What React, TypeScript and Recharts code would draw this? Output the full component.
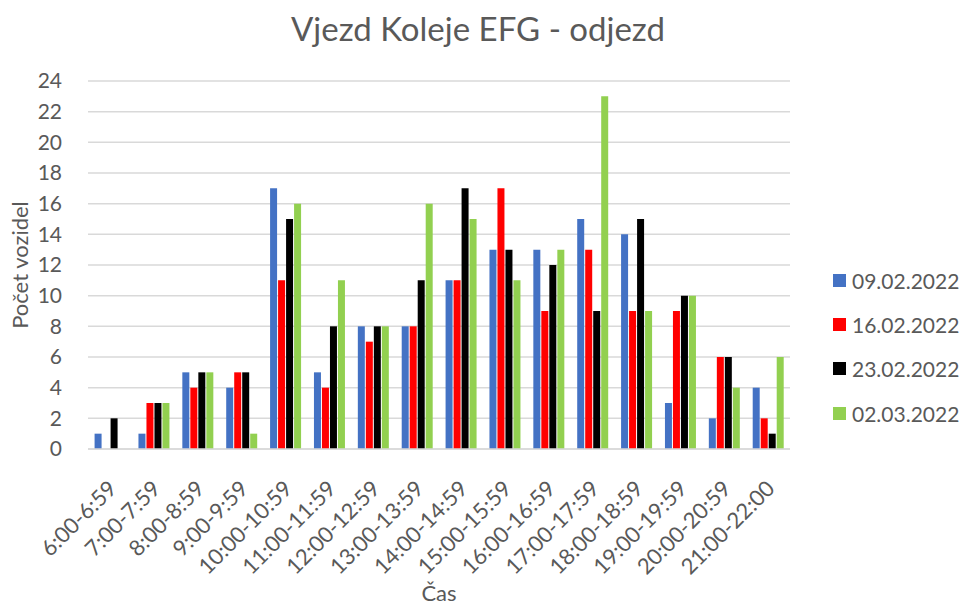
import React from "react";
import { BarChart, Bar, XAxis, YAxis, CartesianGrid } from "recharts";

const categories = ["6:00-6:59","7:00-7:59","8:00-8:59","9:00-9:59","10:00-10:59","11:00-11:59","12:00-12:59","13:00-13:59","14:00-14:59","15:00-15:59","16:00-16:59","17:00-17:59","18:00-18:59","19:00-19:59","20:00-20:59","21:00-22:00"];
const s0902 = [1,1,5,4,17,5,8,8,11,13,13,15,14,3,2,4];
const s1602 = [0,3,4,5,11,4,7,8,11,17,9,13,9,9,6,2];
const s2302 = [2,3,5,5,15,8,8,11,17,13,12,9,15,10,6,1];
const s0203 = [0,3,5,1,16,11,8,16,15,11,13,23,9,10,4,6];
const seriesNames = ["09.02.2022","16.02.2022","23.02.2022","02.03.2022"];
const seriesColors = ["#4472C4","#FF0000","#000000","#92D050"];
const yTicks = [0,2,4,6,8,10,12,14,16,18,20,22,24];

const data = categories.map((c, i) => ({
  cat: c,
  a: s0902[i],
  b: s1602[i],
  c: s2302[i],
  d: s0203[i],
}));
const keys = ["a","b","c","d"];

const FONT = "Lato, 'Open Sans', sans-serif";
const TXT = "#595959";

const XTick = (props: any) => {
  const { x, y, payload } = props;
  const tx = x + 2;
  const ty = y + 27;
  return (
    <text x={tx} y={ty} transform={`rotate(-45, ${tx}, ${ty})`} textAnchor="end" dominantBaseline="central" fill={TXT} fontSize={22} fontFamily={FONT}>
      {payload.value}
    </text>
  );
};

export default function App() {
  return (
    <div style={{ position: "absolute", left: 0, top: 0, width: 962, height: 606, background: "#fff", fontFamily: FONT, color: TXT }}>
      <div style={{ position: "absolute", left: 0, top: 6, width: 956, textAlign: "center", fontSize: 33, lineHeight: "44px" }}>
        Vjezd Koleje EFG - odjezd
      </div>
      <BarChart
        width={962}
        height={606}
        data={data}
        margin={{ top: 81, right: 172, left: 0, bottom: 37 }}
        barCategoryGap="15%"
        barGap={1}
      >
        <CartesianGrid vertical={false} stroke="#d9d9d9" strokeWidth={1.5} />
        <XAxis
          dataKey="cat"
          interval={0}
          height={120}
          tick={<XTick />}
          tickLine={false}
          axisLine={{ stroke: "#d9d9d9", strokeWidth: 1.5 }}
        />
        <YAxis
          width={88}
          domain={[0, 24]}
          ticks={yTicks}
          interval={0}
          tickLine={false}
          axisLine={false}
          tick={{ fill: TXT, fontSize: 21, fontFamily: FONT }}
          tickMargin={20}
        />
        {keys.map((k, i) => (
          <Bar key={k} dataKey={k} name={seriesNames[i]} fill={seriesColors[i]} isAnimationActive={false} />
        ))}
      </BarChart>
      <div style={{ position: "absolute", left: 439 - 60, top: 578, width: 120, textAlign: "center", fontSize: 22, lineHeight: "30px" }}>
        Čas
      </div>
      <div style={{ position: "absolute", left: 20 - 100, top: 265 - 15, width: 200, height: 30, textAlign: "center", fontSize: 22, lineHeight: "30px", transform: "rotate(-90deg)", transformOrigin: "50% 50%" }}>
        Počet vozidel
      </div>
      <div style={{ position: "absolute", left: 833, top: 258, fontSize: 21 }}>
        {seriesNames.map((n, i) => (
          <div key={n} style={{ display: "flex", alignItems: "center", height: 44.3 }}>
            <span style={{ display: "inline-block", width: 13, height: 13, background: seriesColors[i], marginRight: 6 }} />
            <span>{n}</span>
          </div>
        ))}
      </div>
    </div>
  );
}
